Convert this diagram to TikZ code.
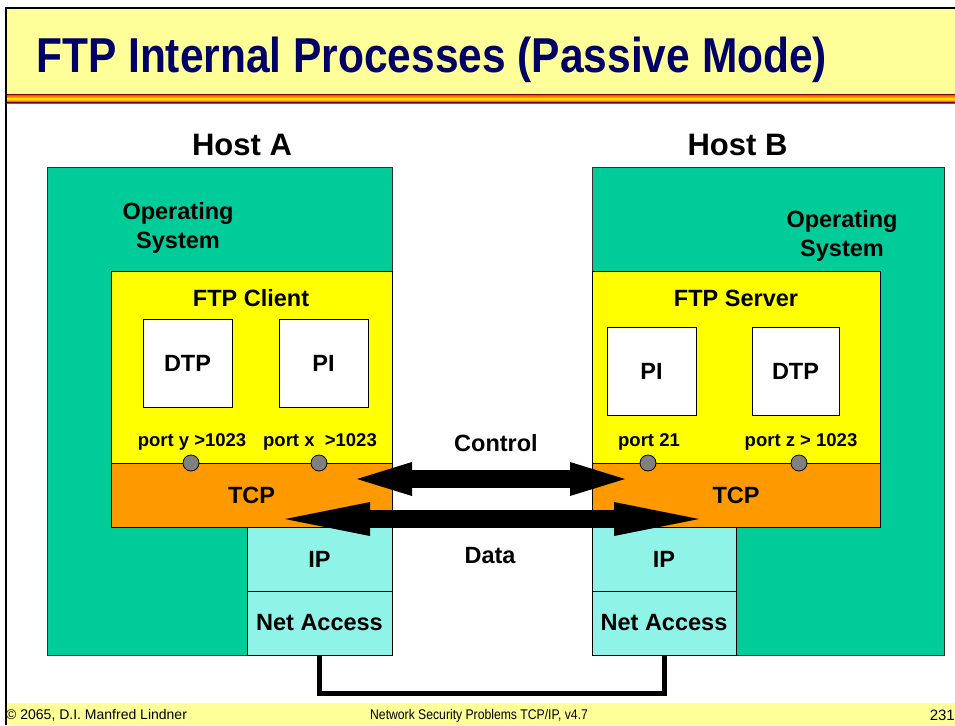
\documentclass[tikz,border=0pt]{standalone}
\usepackage{fontspec}
\usepackage{graphicx}
\setmainfont{Liberation Sans}
\usetikzlibrary{arrows.meta}
\definecolor{osteal}{HTML}{00CC99}
\definecolor{appyellow}{HTML}{FFFF00}
\definecolor{tcporange}{HTML}{FF9900}
\definecolor{ipcyan}{HTML}{90F3E8}
\definecolor{paleyellow}{HTML}{FFFF99}
\definecolor{titlenavy}{HTML}{000066}
\definecolor{portgray}{HTML}{808080}
\pgfdeclareverticalshading{titlestripe}{100bp}{color(0bp)=(red!60!black); color(20bp)=(red!90!orange); color(38bp)=(orange); color(50bp)=(yellow); color(62bp)=(orange); color(80bp)=(red!90!orange); color(100bp)=(red!60!black)}
\newcommand\lblfont{\bfseries\fontsize{23.5}{28}\selectfont}
\newcommand\hostfont{\bfseries\fontsize{31}{36}\selectfont}
\newcommand\portfont{\bfseries\fontsize{18.5}{22}\selectfont}
\newcommand\footfont{\fontsize{14}{16}\selectfont}
\begin{document}
\begin{tikzpicture}[x=1pt,y=-1pt,
  box/.style={draw=black, line width=0.8pt, inner sep=0pt, outer sep=0pt, anchor=north west, font=\lblfont},
  osbox/.style={box, fill=osteal, draw=black!80},
  appbox/.style={box, fill=appyellow},
  tcpbox/.style={box, fill=tcporange},
  ipbox/.style={box, fill=ipcyan},
  procbox/.style={box, fill=white},
  lbl/.style={inner sep=0pt, font=\lblfont, anchor=base},
  hostlbl/.style={inner sep=0pt, font=\hostfont, anchor=base},
  portlbl/.style={inner sep=0pt, font=\portfont, anchor=base},
  portdot/.style={circle, draw=black, line width=0.8pt, fill=portgray, minimum size=16pt, inner sep=0pt},
  ctrlarrow/.style={line width=18pt, {Triangle[length=55pt,width=34pt,line width'=0pt]}-{Triangle[length=55pt,width=34pt,line width'=0pt]}},
  dataarrow/.style={line width=18pt, {Triangle[length=85pt,width=34pt,line width'=0pt]}-{Triangle[length=85pt,width=34pt,line width'=0pt]}},
  cable/.style={line width=5pt, line join=miter},
  foot/.style={inner sep=0pt, font=\footfont, anchor=base west}
]
\useasboundingbox (0,0) rectangle (955,725);
% slide frame
\fill[paleyellow] (5,7) rectangle (955,94);
\shade[shading=titlestripe] (5,94) rectangle (955,103);
\draw[red!50!black, line width=0.6pt] (5,94.3) -- (955,94.3);
\draw[red!40!black, line width=0.8pt] (5,102.6) -- (955,102.6);
\fill[paleyellow] (5,703) rectangle (955,725);
\draw[line width=1.6pt] (5.8,725) -- (5.8,7.8) -- (955,7.8);
\node[inner sep=0pt, anchor=base west, text=titlenavy, font=\bfseries\fontsize{49}{56}\selectfont] (title) at (36,72) {\scalebox{0.867}[1]{FTP Internal Processes (Passive Mode)}};
\node[foot] (f1) at (6,719) {© 2065, D.I. Manfred Lindner};
\node[foot] (f2) at (370,719) {\scalebox{0.87}[1]{Network Security Problems TCP/IP, v4.7}};
\node[foot, anchor=base east, font=\fontsize{15}{17}\selectfont] (f3) at (955,720) {231};

% Host A
\node[osbox, minimum width=345pt, minimum height=488pt] (hostA) at (47,167) {};
\node[appbox, minimum width=281pt, minimum height=192pt] (ftpA) at (111,271) {};
\node[tcpbox, minimum width=281pt, minimum height=64pt] (tcpA) at (111,463) {TCP};
\node[ipbox, minimum width=145pt, minimum height=64pt] (ipA) at (247,527) {IP};
\node[ipbox, minimum width=145pt, minimum height=64pt] (naA) at (247,591) {Net Access};
\node[procbox, minimum width=89pt, minimum height=88pt] (dtpA) at (143,319) {DTP};
\node[procbox, minimum width=89pt, minimum height=88pt] (piA) at (279,319) {PI};
% Host B
\node[osbox, minimum width=352pt, minimum height=488pt] (hostB) at (592,167) {};
\node[appbox, minimum width=288pt, minimum height=192pt] (ftpB) at (592,271) {};
\node[tcpbox, minimum width=288pt, minimum height=64pt] (tcpB) at (592,463) {TCP};
\node[ipbox, minimum width=144pt, minimum height=64pt] (ipB) at (592,527) {IP};
\node[ipbox, minimum width=144pt, minimum height=64pt] (naB) at (592,591) {Net Access};
\node[procbox, minimum width=89pt, minimum height=88pt] (piB) at (607,327) {PI};
\node[procbox, minimum width=87pt, minimum height=88pt] (dtpB) at (752,327) {DTP};

% labels
\node[hostlbl] (hA) at (242,155) {Host A};
\node[hostlbl] (hB) at (737.5,155) {Host B};
\node[lbl] (osA1) at (178,219) {Operating};
\node[lbl] (osA2) at (178,248) {System};
\node[lbl] (osB1) at (842,227) {Operating};
\node[lbl] (osB2) at (842,256) {System};
\node[lbl] (ftpAlbl) at (251,306.5) {FTP Client};
\node[lbl] (ftpBlbl) at (736,306.5) {FTP Server};
\node[lbl] (ctrl) at (496,451) {Control};
\node[lbl] (data) at (490,563.5) {Data};

% ports
\node[portlbl] (pyl) at (192,446) {port y >1023};
\node[portlbl] (pxl) at (320,446) {port x \ >1023};
\node[portlbl] (p21l) at (649,446) {port 21};
\node[portlbl] (pzl) at (801,446) {port z > 1023};
\node[portdot] (py) at (191,463) {};
\node[portdot] (px) at (319,463) {};
\node[portdot] (p21) at (648,463) {};
\node[portdot] (pz) at (799,463) {};

% arrows
\coordinate (cL) at (357,479);
\coordinate (cR) at (625,479);
\coordinate (dL) at (285,519);
\coordinate (dR) at (699,519);
\draw[ctrlarrow] (cL) -- (cR);
\draw[dataarrow] (dL) -- (dR);

% cable
\draw[cable] (naA.south) -- ++(0,38) -| (naB.south);
\end{tikzpicture}
\end{document}
